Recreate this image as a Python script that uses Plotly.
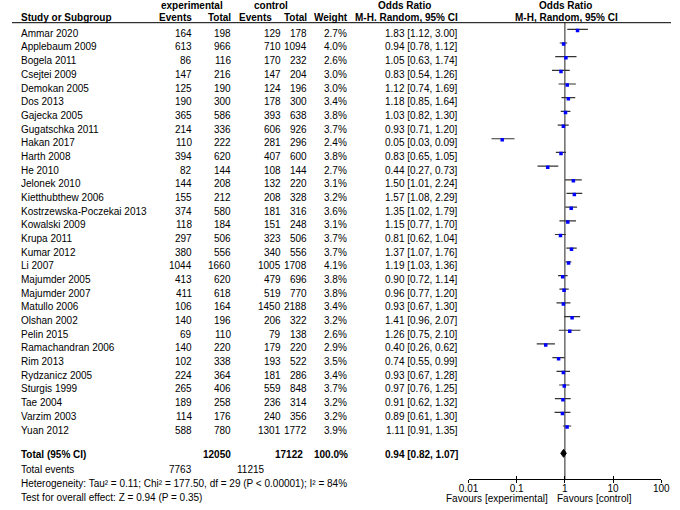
import plotly.graph_objects as go

# ---------------- data ----------------
studies = ["Ammar 2020", "Applebaum 2009", "Bogela 2011", "Csejtei 2009", "Demokan 2005",
           "Dos 2013", "Gajecka 2005", "Gugatschka 2011", "Hakan 2017", "Harth 2008",
           "He 2010", "Jelonek 2010", "Kietthubthew 2006", "Kostrzewska-Poczekai 2013",
           "Kowalski 2009", "Krupa 2011", "Kumar 2012", "Li 2007", "Majumder 2005",
           "Majumder 2007", "Matullo 2006", "Olshan 2002", "Pelin 2015", "Ramachandran 2006",
           "Rim 2013", "Rydzanicz 2005", "Sturgis 1999", "Tae 2004", "Varzim 2003", "Yuan 2012"]
exp_events = [164, 613, 86, 147, 125, 190, 365, 214, 110, 394, 82, 144, 155, 374, 118,
              297, 380, 1044, 413, 411, 106, 140, 69, 140, 102, 224, 265, 189, 114, 588]
exp_total = [198, 966, 116, 216, 190, 300, 586, 336, 222, 620, 144, 208, 212, 580, 184,
             506, 556, 1660, 620, 618, 164, 196, 110, 220, 338, 364, 406, 258, 176, 780]
ctl_events = [129, 710, 170, 147, 124, 178, 393, 606, 281, 407, 108, 132, 208, 181, 151,
              323, 340, 1005, 479, 519, 1450, 206, 79, 179, 193, 181, 559, 236, 240, 1301]
ctl_total = [178, 1094, 232, 204, 196, 300, 638, 926, 296, 600, 144, 220, 328, 316, 248,
             506, 556, 1708, 696, 770, 2188, 322, 138, 220, 522, 286, 848, 314, 356, 1772]
weights = [2.7, 4.0, 2.6, 3.0, 3.0, 3.4, 3.8, 3.7, 2.4, 3.8, 2.7, 3.1, 3.2, 3.6, 3.1,
           3.7, 3.7, 4.1, 3.8, 3.8, 3.4, 3.2, 2.6, 2.9, 3.5, 3.4, 3.7, 3.2, 3.2, 3.9]
or_vals = [1.83, 0.94, 1.05, 0.83, 1.12, 1.18, 1.03, 0.93, 0.05, 0.83, 0.44, 1.50, 1.57, 1.35, 1.15,
           0.81, 1.37, 1.19, 0.90, 0.96, 0.93, 1.41, 1.26, 0.40, 0.74, 0.93, 0.97, 0.91, 0.89, 1.11]
ci_low = [1.12, 0.78, 0.63, 0.54, 0.74, 0.85, 0.82, 0.71, 0.03, 0.65, 0.27, 1.01, 1.08, 1.02, 0.77,
          0.62, 1.07, 1.03, 0.72, 0.77, 0.67, 0.96, 0.75, 0.26, 0.55, 0.67, 0.76, 0.62, 0.61, 0.91]
ci_high = [3.00, 1.12, 1.74, 1.26, 1.69, 1.64, 1.30, 1.20, 0.09, 1.05, 0.73, 2.24, 2.29, 1.79, 1.70,
           1.04, 1.76, 1.36, 1.14, 1.20, 1.30, 2.07, 2.10, 0.62, 0.99, 1.28, 1.25, 1.32, 1.30, 1.35]

total_exp = 12050
total_ctl = 17122
total_weight = 100.0
total_events_exp = 7763
total_events_ctl = 11215
pooled = [0.94, 0.82, 1.07]  # OR, low, high
het_text = "Heterogeneity: Tau² = 0.11; Chi² = 177.50, df = 29 (P < 0.00001); I² = 84%"
effect_text = "Test for overall effect: Z = 0.94 (P = 0.35)"
tick_vals = [0.01, 0.1, 1, 10, 100]
tick_labels = ["0.01", "0.1", "1", "10", "100"]

# ---------------- layout helpers ----------------
W, H = 680, 510
ROW0, ROWH = 33.3, 13.68
FONT = "Liberation Sans, Arial, sans-serif"


def prow(px):
    return (px - ROW0) / ROWH


rows = list(range(len(studies)))
FOFF = 4 / ROWH  # forest marks sit slightly above text centre

annotations = []


def txt(xpx, y, s, anchor="right", bold=False):
    annotations.append(dict(x=xpx / W, xref="paper", y=y, yref="y",
                            text=f"<b>{s}</b>" if bold else s, showarrow=False,
                            xanchor=anchor, yanchor="middle", borderpad=0,
                            font=dict(size=10, color="black", family=FONT)))


# headers
txt(187, prow(5), "experimental", "center", True)
txt(269, prow(5), "control", "center", True)
txt(406, prow(5), "Odds Ratio", "center", True)
txt(571, prow(5), "Odds Ratio", "center", True)
txt(10, prow(17.5), "Study or Subgroup", "left", True)
txt(188, prow(17.5), "Events", "right", True)
txt(228, prow(17.5), "Total", "right", True)
txt(271, prow(17.5), "Events", "right", True)
txt(307, prow(17.5), "Total", "right", True)
txt(349, prow(17.5), "Weight", "right", True)
txt(462, prow(17.5), "M-H. Random, 95% CI", "right", True)
txt(573, prow(17.5), "M-H, Random, 95% CI", "center", True)

for i in rows:
    txt(10, i, studies[i], "left")
    txt(188, i, str(exp_events[i]))
    txt(228, i, str(exp_total[i]))
    txt(280, i, str(ctl_events[i]))
    txt(307, i, str(ctl_total[i]))
    txt(348, i, f"{weights[i]:.1f}%")
    txt(462, i, f"{or_vals[i]:.2f} [{ci_low[i]:.2f}, {ci_high[i]:.2f}]")

y_total = prow(454.3)
txt(10, y_total, "Total (95% CI)", "left", True)
txt(228, y_total, str(total_exp), "right", True)
txt(302, y_total, str(total_ctl), "right", True)
txt(349, y_total, f"{total_weight:.1f}%", "right", True)
txt(462, y_total, f"{pooled[0]:.2f} [{pooled[1]:.2f}, {pooled[2]:.2f}]", "right", True)
txt(10, prow(469), "Total events", "left")
txt(188, prow(469), str(total_events_exp))
txt(263, prow(469), str(total_events_ctl))
txt(10, prow(483), het_text, "left")
txt(10, prow(497), effect_text, "left")
txt(555, prow(498), "Favours [experimental]", "right")
txt(562, prow(498), "Favours [control]", "left")

# ---------------- traces ----------------
ci_x, ci_y = [], []
for i in rows:
    ci_x += [ci_low[i], ci_high[i], None]
    ci_y += [i - FOFF, i - FOFF, None]

y_axis_row = prow(479)
fig = go.Figure()
fig.add_trace(go.Scatter(x=[1, 1], y=[prow(22.7), y_axis_row], mode="lines",
                         line=dict(color="#222222", width=1), hoverinfo="skip"))
fig.add_trace(go.Scatter(x=ci_x, y=ci_y, mode="lines",
                         line=dict(color="#333333", width=1.2), hoverinfo="skip"))
fig.add_trace(go.Scatter(x=or_vals, y=[i - FOFF + 0.08 for i in rows], mode="markers",
                         marker=dict(symbol="square", size=3.5, color="#0000ff",
                                     line=dict(width=0))))
dh = 4 / ROWH
yd = y_total - 1 / ROWH
fig.add_trace(go.Scatter(x=[pooled[1], pooled[0], pooled[2], pooled[0], pooled[1]],
                         y=[yd, yd - dh, yd, yd + dh, yd], mode="lines", fill="toself",
                         fillcolor="black", line=dict(color="black", width=1)))
fig.add_trace(go.Scatter(x=[1], y=[y_axis_row], xaxis="x2", mode="markers",
                         marker=dict(opacity=0), hoverinfo="skip"))

x_domain = [471.7 / W, 670 / W]
axis_pos = 1 - 479 / H
fig.update_layout(
    width=W, height=H, margin=dict(l=0, r=0, t=0, b=0),
    paper_bgcolor="white", plot_bgcolor="white", showlegend=False,
    font=dict(family=FONT, size=10, color="black"),
    xaxis=dict(type="log", range=[-2, 2], domain=x_domain, anchor="free", position=axis_pos,
               showline=True, linecolor="black", linewidth=1, ticks="outside", ticklen=3,
               tickcolor="black", tickwidth=1, tickvals=tick_vals, ticktext=tick_labels,
               tickfont=dict(size=10, family=FONT, color="black"), ticklabelstandoff=-3,
               showgrid=False, zeroline=False),
    xaxis2=dict(type="log", range=[-2, 2], domain=x_domain, anchor="free", position=axis_pos,
                overlaying="x", showline=False, ticks="inside", ticklen=3, tickcolor="black",
                tickwidth=1, tickvals=tick_vals, showticklabels=False, showgrid=False,
                zeroline=False),
    yaxis=dict(range=[prow(H), prow(0)], domain=[0, 1], visible=False, showgrid=False,
               zeroline=False),
    annotations=annotations,
    shapes=[dict(type="line", xref="paper", yref="y", x0=2 / W, x1=1,
                 y0=prow(22.7), y1=prow(22.7), line=dict(color="black", width=1))],
)

fig.write_html("out.html", config={"displayModeBar": False},
               post_script="document.body.style.margin='0px';")
